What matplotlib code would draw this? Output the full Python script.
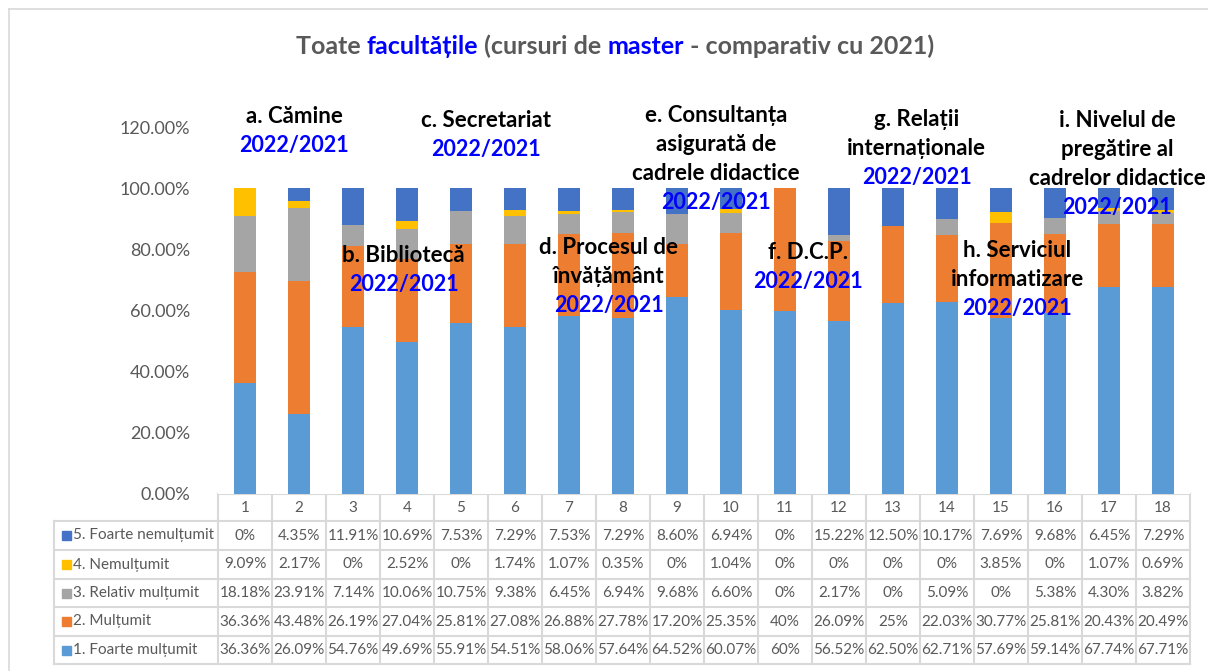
import matplotlib.pyplot as plt
import numpy as np

plt.rcParams['font.family'] = ['Lato', 'DejaVu Sans']

# data (percent)
categories = [str(i) for i in range(1, 19)]
foarte_multumit = [36.36, 26.09, 54.76, 49.69, 55.91, 54.51, 58.06, 57.64, 64.52,
                   60.07, 60, 56.52, 62.50, 62.71, 57.69, 59.14, 67.74, 67.71]
multumit = [36.36, 43.48, 26.19, 27.04, 25.81, 27.08, 26.88, 27.78, 17.20,
            25.35, 40, 26.09, 25, 22.03, 30.77, 25.81, 20.43, 20.49]
relativ_multumit = [18.18, 23.91, 7.14, 10.06, 10.75, 9.38, 6.45, 6.94, 9.68,
                    6.60, 0, 2.17, 0, 5.09, 0, 5.38, 4.30, 3.82]
nemultumit = [9.09, 2.17, 0, 2.52, 0, 1.74, 1.07, 0.35, 0,
              1.04, 0, 0, 0, 0, 3.85, 0, 1.07, 0.69]
foarte_nemultumit = [0, 4.35, 11.91, 10.69, 7.53, 7.29, 7.53, 7.29, 8.60,
                     6.94, 0, 15.22, 12.50, 10.17, 7.69, 9.68, 6.45, 7.29]

series_names = ['1. Foarte mulțumit', '2. Mulțumit', '3. Relativ mulțumit',
                '4. Nemulțumit', '5. Foarte nemulțumit']
series_vals = [foarte_multumit, multumit, relativ_multumit, nemultumit, foarte_nemultumit]
series_colors = ['#5B9BD5', '#ED7D31', '#A5A5A5', '#FFC000', '#4472C4']

section_titles = [['a. Cămine'], ['b. Bibliotecă'], ['c. Secretariat'],
                  ['d. Procesul de', 'învățământ'],
                  ['e. Consultanța', 'asigurată de', 'cadrele didactice'],
                  ['f. D.C.P.'], ['g. Relații', 'internaționale'],
                  ['h. Serviciul', 'informatizare'],
                  ['i. Nivelul de', 'pregătire al', 'cadrelor didactice']]
section_sub = '2022/2021'
# where each section label sits (x in bar index, y of first line in %)
section_pos = [(0.91, 123.5), (2.94, 78.1), (4.46, 122.2), (6.74, 80.7),
               (8.72, 123.9), (10.43, 79.1), (12.44, 122.5), (14.30, 79.7),
               (16.15, 122.2)]

W, H = 1208, 671
fig = plt.figure(figsize=(W / 100, H / 100), dpi=100)

# pixel layout
x0, x1 = 218, 1190          # plot / table columns
y_zero, y_top = 494, 127    # 0% and 120%
colw = (x1 - x0) / len(categories)

ax = fig.add_axes([x0 / W, 1 - y_zero / H, (x1 - x0) / W, (y_zero - y_top) / H])
x = np.arange(len(categories))
bottom = np.zeros(len(categories))
for vals, col, name in zip(series_vals, series_colors, series_names):
    ax.bar(x, vals, width=0.4, bottom=bottom, color=col, label=name, zorder=2)
    bottom += np.array(vals)

ax.set_xlim(-0.5, len(categories) - 0.5)
ax.set_ylim(0, 120)
ax.set_yticks(np.arange(0, 121, 20))
ax.set_yticklabels([f'{v:.2f}%' for v in np.arange(0, 121, 20)], fontsize=13, color='#595959')
ax.tick_params(axis='y', length=0, pad=20)
ax.set_xticks([])
for s in ax.spines.values():
    s.set_visible(False)

step = 9.5
for lines, (px, py) in zip(section_titles, section_pos):
    for k, line in enumerate(lines):
        ax.text(px, py - k * step, line, ha='center', va='center', fontsize=16,
                fontweight='bold', color='black', zorder=5, clip_on=False)
    ax.text(px, py - len(lines) * step, section_sub, ha='center', va='center', fontsize=15.5,
            fontweight='bold', color='#0000FF', zorder=5, clip_on=False)

# overlay in pixel coords for frame, title and data table
ov = fig.add_axes([0, 0, 1, 1], zorder=-1)
ov.set_xlim(0, W)
ov.set_ylim(H, 0)
ov.axis('off')
ov.patch.set_alpha(0)

grid_c = '#D9D9D9'
ov.plot([9, W], [9, 9], color=grid_c, lw=1.2)
ov.plot([9, 9], [9, H], color=grid_c, lw=1.2)

# title in mixed colours
title_parts = [('Toate ', '#595959'), ('facultățile', '#0000FF'), (' (cursuri de ', '#595959'),
               ('master', '#0000FF'), (' - comparativ cu 2021)', '#595959')]
fig.canvas.draw()
r = fig.canvas.get_renderer()
texts = []
for s, c in title_parts:
    t = ov.text(0, 46, s, ha='left', va='center', fontsize=18, fontweight='bold', color=c)
    texts.append(t)
widths = [t.get_window_extent(r).width for t in texts]
cur = 615 - sum(widths) / 2
for t, w in zip(texts, widths):
    t.set_x(cur)
    cur += w

# data table
tab_left = 54
row_y = [521, 550, 579, 607, 636, 664]
ov.plot([x0, x1], [y_zero, y_zero], color=grid_c, lw=1.5)
for k in range(len(categories) + 1):
    xx = x0 + k * colw
    ov.plot([xx, xx], [y_zero, row_y[-1]], color=grid_c, lw=1.5)
    if k < len(categories):
        ov.text(xx + colw / 2, (y_zero + row_y[0]) / 2, categories[k], ha='center',
                va='center', fontsize=11, color='#595959')
ov.plot([tab_left, tab_left], [row_y[0], row_y[-1]], color=grid_c, lw=1.5)
for yy in row_y:
    ov.plot([tab_left, x1], [yy, yy], color=grid_c, lw=1.5)


def fmt(v):
    return f'{v:.0f}%' if float(v).is_integer() else f'{v:.2f}%'


for i, (vals, col, name) in enumerate(zip(series_vals[::-1], series_colors[::-1], series_names[::-1])):
    yc = (row_y[i] + row_y[i + 1]) / 2
    ov.add_patch(plt.Rectangle((62, yc - 4.5), 9, 9, color=col))
    ov.text(73, yc, name, ha='left', va='center', fontsize=11, color='#595959')
    for k, v in enumerate(vals):
        ov.text(x0 + (k + 0.5) * colw, yc, fmt(v), ha='center', va='center',
                fontsize=11, color='#595959')

fig.savefig('out.png', dpi=100)
